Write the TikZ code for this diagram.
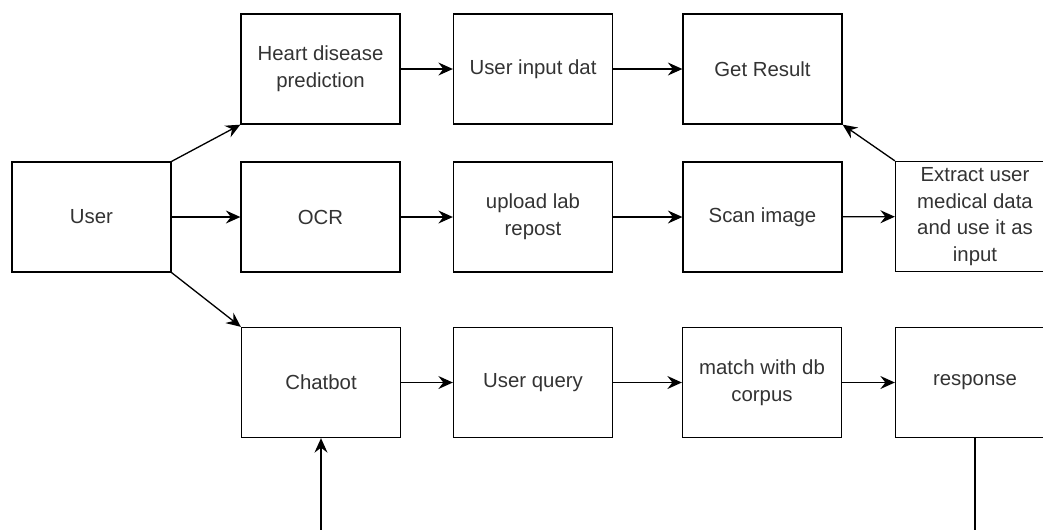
\documentclass[tikz,border=0pt]{standalone}
\usepackage{fontspec}
\setmainfont{Liberation Sans}
\usetikzlibrary{arrows.meta}

\begin{document}
\begin{tikzpicture}[x=0.02cm, y=-0.02cm,
  box/.style={draw, line width=0.75pt, minimum width=3.18cm, minimum height=2.2cm,
    align=center, inner sep=2pt, text=black!80,
    font=\fontsize{11.6}{15.2}\selectfont},
  arr/.style={line width=0.75pt, -{Stealth[length=2.9mm, width=2.6mm, inset=1mm]}}]

\useasboundingbox (0,0) rectangle (1043,529);
\clip (0,0) rectangle (1043,529);

% User
\node[box] (user) at (91.5,217) {User};

% Top row
\node[box] (heart) at (320.5,69) {Heart disease\\prediction};
\node[box] (inputdat) at (533,69) {User input dat};
\node[box] (result) at (762.5,69) {Get Result};

% Middle row
\node[box] (ocr) at (320.5,217) {OCR};
\node[box] (upload) at (533,217) {upload lab\\repost};
\node[box] (scan) at (762.5,217) {Scan image};
\node[box] (extract) at (975,216.5) {Extract user\\medical data\\and use it as\\input};

% Bottom row
\node[box] (chatbot) at (321,382.5) {Chatbot};
\node[box] (query) at (533,382.5) {User query};
\node[box] (match) at (762,382.5) {match with db\\corpus};
\node[box] (response) at (975,382.5) {response};

% Arrows
\draw[arr] (user.north east) -- (heart.south west);
\draw[arr] (user) -- (ocr);
\draw[arr] (user.south east) -- (chatbot.north west);

\draw[arr] (heart) -- (inputdat);
\draw[arr] (inputdat) -- (result);

\draw[arr] (ocr) -- (upload);
\draw[arr] (upload) -- (scan);
\draw[arr] (scan) -- (extract);
\draw[arr] (extract.north west) -- (result.south east);

\draw[arr] (chatbot) -- (query);
\draw[arr] (query) -- (match);
\draw[arr] (match) -- (response);

% Loop back to chatbot
\coordinate (loopy) at (0,570);
\draw[arr] (response.south) -- (response.south |- loopy) -| (chatbot.south);

\end{tikzpicture}
\end{document}
